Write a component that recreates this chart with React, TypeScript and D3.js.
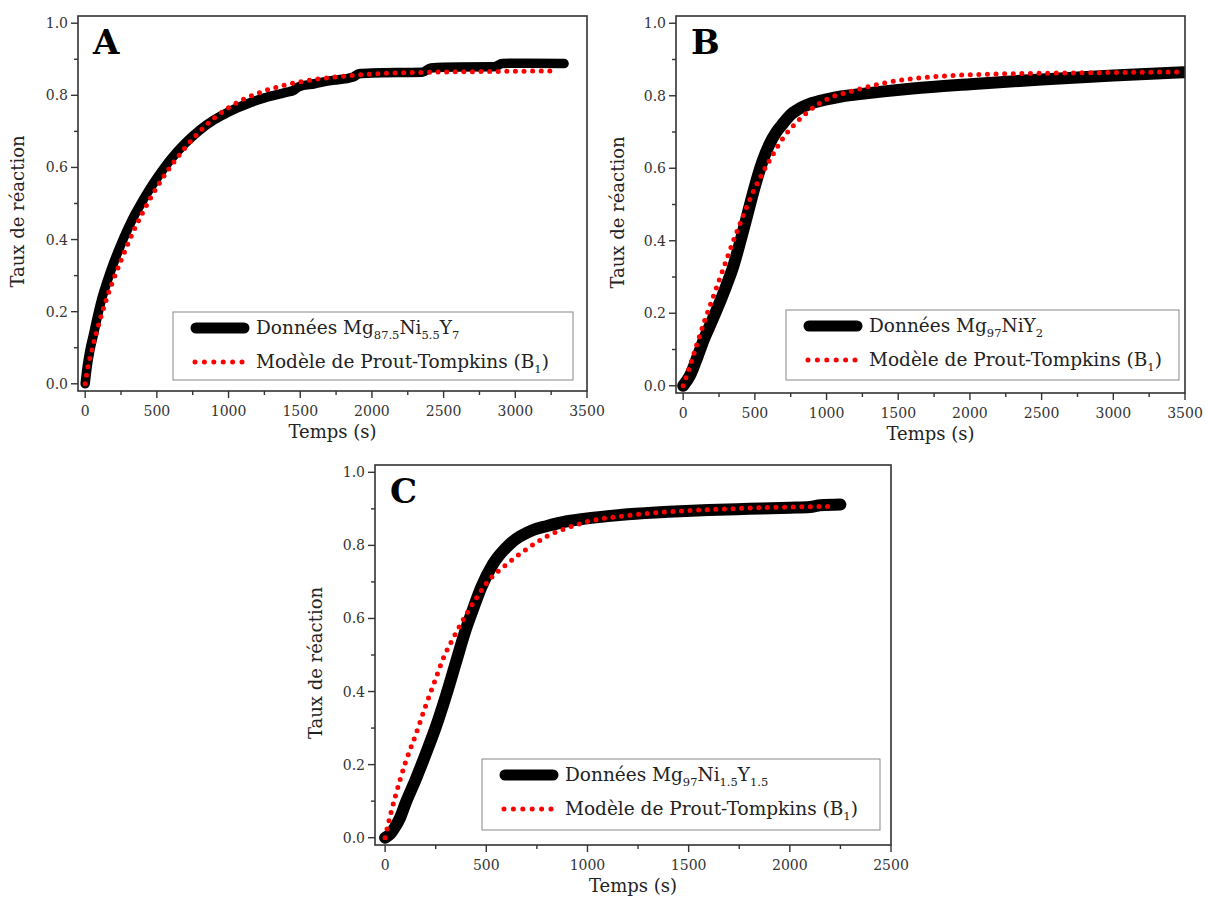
import React from 'react';
import * as d3 from 'd3';

const FONT = "'DejaVu Serif', serif";

// ---- data (time in s, reaction fraction) ----
const dataA: [number, number][] = [
  [0, 0], [15, 0.05], [33, 0.093], [60, 0.14], [85, 0.186], [113, 0.232], [150, 0.28], [200, 0.337],
  [250, 0.387], [300, 0.432], [350, 0.472], [400, 0.507], [450, 0.54], [500, 0.57], [600, 0.624],
  [700, 0.668], [800, 0.704], [900, 0.732], [1000, 0.754], [1128, 0.776], [1250, 0.793],
  [1400, 0.808], [1455, 0.814], [1490, 0.824], [1600, 0.832], [1700, 0.84], [1870, 0.851], [1910, 0.86],
  [2000, 0.862], [2350, 0.864], [2410, 0.876], [2500, 0.878], [2850, 0.879], [2910, 0.888],
  [3000, 0.889], [3340, 0.888],
];
const modelA: [number, number][] = [
  [0, 0], [19, 0.046], [47, 0.093], [77, 0.14], [110, 0.186], [146, 0.232], [200, 0.292], [250, 0.342],
  [300, 0.39], [350, 0.434], [400, 0.474], [500, 0.545], [600, 0.605], [700, 0.656], [800, 0.7],
  [900, 0.737], [1000, 0.766], [1200, 0.805], [1400, 0.829], [1600, 0.844], [1800, 0.853],
  [2000, 0.859], [2400, 0.864], [2800, 0.866], [3300, 0.868],
];
const dataB: [number, number][] = [
  [0, 0], [50, 0.03], [100, 0.08], [150, 0.133], [200, 0.178], [250, 0.225], [300, 0.275],
  [350, 0.33], [400, 0.4], [450, 0.475], [500, 0.55], [550, 0.615], [600, 0.665], [650, 0.7],
  [700, 0.725], [750, 0.748], [800, 0.762], [900, 0.78], [1000, 0.79], [1100, 0.798], [1200, 0.803],
  [1400, 0.812], [1600, 0.82], [2000, 0.832], [2500, 0.845], [3000, 0.856], [3500, 0.865],
];
const modelB: [number, number][] = [
  [0, 0], [50, 0.058], [100, 0.12], [150, 0.18], [200, 0.235], [250, 0.29], [300, 0.345],
  [350, 0.4], [400, 0.45], [450, 0.5], [500, 0.545], [600, 0.62], [700, 0.685], [800, 0.73],
  [900, 0.765], [1000, 0.79], [1200, 0.815], [1400, 0.835], [1600, 0.847], [1800, 0.854],
  [2000, 0.858], [2500, 0.862], [3000, 0.864], [3500, 0.866],
];
const dataC: [number, number][] = [
  [0, 0], [25, 0.01], [50, 0.03], [75, 0.056], [100, 0.093], [150, 0.158], [200, 0.228],
  [250, 0.302], [300, 0.387], [350, 0.48], [400, 0.572], [433, 0.623], [475, 0.685], [532, 0.748],
  [615, 0.803], [731, 0.842], [800, 0.853], [900, 0.866], [1000, 0.874], [1100, 0.88],
  [1200, 0.885], [1400, 0.892], [1600, 0.897], [1800, 0.9], [2000, 0.903], [2100, 0.905],
  [2150, 0.91], [2250, 0.912],
];
const modelC: [number, number][] = [
  [0, 0], [25, 0.06], [50, 0.112], [100, 0.205], [150, 0.28], [200, 0.36], [250, 0.435],
  [284, 0.486], [350, 0.56], [400, 0.61], [450, 0.655], [500, 0.696], [600, 0.748], [700, 0.79],
  [800, 0.825], [900, 0.848], [1000, 0.865], [1200, 0.882], [1400, 0.892], [1600, 0.898],
  [1800, 0.902], [2000, 0.905], [2220, 0.907],
];

const xTicksAB = [0, 500, 1000, 1500, 2000, 2500, 3000, 3500];
const xTicksC = [0, 500, 1000, 1500, 2000, 2500];
const yTicks = [0, 0.2, 0.4, 0.6, 0.8, 1.0];
const Y_DOMAIN: [number, number] = [-0.02, 1.02];

const X_TITLE = 'Temps (s)';
const Y_TITLE = 'Taux de réaction';
const MODEL_LABEL: [string, boolean][] = [['Modèle de Prout-Tompkins (B', false], ['1', true], [')', false]];
const labelA: [string, boolean][] = [['Données Mg', false], ['87.5', true], ['Ni', false], ['5.5', true], ['Y', false], ['7', true]];
const labelB: [string, boolean][] = [['Données Mg', false], ['97', true], ['NiY', false], ['2', true]];
const labelC: [string, boolean][] = [['Données Mg', false], ['97', true], ['Ni', false], ['1.5', true], ['Y', false], ['1.5', true]];

type Cfg = {
  letter: string; left: number; right: number; top: number; bottom: number;
  xDomain: [number, number]; xTicks: number[]; data: [number, number][]; model: [number, number][];
  dataWidth: number; legend: { x: number; y: number; w: number; h: number }; label: [string, boolean][];
  yTitleX: number; xTitleY: number;
};

const panels: Cfg[] = [
  { letter: 'A', left: 78, right: 587, top: 16, bottom: 391, xDomain: [-50, 3500], xTicks: xTicksAB,
    data: dataA, model: modelA, dataWidth: 9.5, legend: { x: 173, y: 312, w: 400, h: 68 }, label: labelA,
    yTitleX: 24, xTitleY: 438 },
  { letter: 'B', left: 676, right: 1185, top: 16, bottom: 393, xDomain: [-50, 3500], xTicks: xTicksAB,
    data: dataB, model: modelB, dataWidth: 12, legend: { x: 786, y: 310, w: 393, h: 70 }, label: labelB,
    yTitleX: 624, xTitleY: 440 },
  { letter: 'C', left: 375, right: 891, top: 465, bottom: 845, xDomain: [-50, 2500], xTicks: xTicksC,
    data: dataC, model: modelC, dataWidth: 12, legend: { x: 482, y: 759, w: 398, h: 71 }, label: labelC,
    yTitleX: 322, xTitleY: 892 },
];

const AXIS = '#333';

function RichText({ x, y, parts, size }: { x: number; y: number; parts: [string, boolean][]; size: number }) {
  let sub = false;
  const shift = 5;
  return (
    <text x={x} y={y} fontFamily={FONT} fontSize={size} fill="#222">
      {parts.map(([t, s], i) => {
        let dy = 0;
        if (s && !sub) dy = shift;
        if (!s && sub) dy = -shift;
        sub = s;
        return (
          <tspan key={i} dy={dy} fontSize={s ? size * 0.62 : size}>{t}</tspan>
        );
      })}
    </text>
  );
}

function Panel({ c }: { c: Cfg }) {
  const x = d3.scaleLinear().domain(c.xDomain).range([c.left, c.right]);
  const y = d3.scaleLinear().domain(Y_DOMAIN).range([c.bottom, c.top]);
  const line = d3.line<[number, number]>().x(d => x(d[0])).y(d => y(d[1])).curve(d3.curveMonotoneX);
  const minorX: number[] = [];
  for (let i = 0; i < c.xTicks.length - 1; i++) minorX.push((c.xTicks[i] + c.xTicks[i + 1]) / 2);
  const minorY: number[] = [];
  for (let i = 0; i < yTicks.length - 1; i++) minorY.push((yTicks[i] + yTicks[i + 1]) / 2);
  const lg = c.legend;
  const r1 = lg.y + 16;
  const r2 = lg.y + 50;
  const cx = (c.left + c.right) / 2;
  const cy = (c.top + c.bottom) / 2;
  return (
    <g>
      <defs>
        <clipPath id={'clip' + c.letter}>
          <rect x={c.left} y={c.top} width={c.right - c.left} height={c.bottom - c.top} />
        </clipPath>
      </defs>
      <g clipPath={`url(#clip${c.letter})`}>
        <path d={line(c.data) || ''} fill="none" stroke="#000" strokeWidth={c.dataWidth}
          strokeLinecap="round" strokeLinejoin="round" />
        <path d={line(c.model) || ''} fill="none" stroke="#ff0000" strokeWidth={5}
          strokeLinecap="round" strokeDasharray="0 8.6" />
      </g>
      <rect x={c.left} y={c.top} width={c.right - c.left} height={c.bottom - c.top}
        fill="none" stroke={AXIS} strokeWidth={1.6} />
      {c.xTicks.map(t => (
        <g key={'xt' + t}>
          <line x1={x(t)} x2={x(t)} y1={c.bottom} y2={c.bottom + 7} stroke={AXIS} strokeWidth={1.4} />
          <text x={x(t)} y={c.bottom + 25} textAnchor="middle" fontFamily={FONT} fontSize={14} fill="#333">{t}</text>
        </g>
      ))}
      {minorX.map(t => (
        <line key={'xm' + t} x1={x(t)} x2={x(t)} y1={c.bottom} y2={c.bottom + 4} stroke={AXIS} strokeWidth={1.4} />
      ))}
      {yTicks.map(t => (
        <g key={'yt' + t}>
          <line x1={c.left - 7} x2={c.left} y1={y(t)} y2={y(t)} stroke={AXIS} strokeWidth={1.4} />
          <text x={c.left - 10} y={y(t) + 5} textAnchor="end" fontFamily={FONT} fontSize={14} fill="#333">{t.toFixed(1)}</text>
        </g>
      ))}
      {minorY.map(t => (
        <line key={'ym' + t} x1={c.left - 4} x2={c.left} y1={y(t)} y2={y(t)} stroke={AXIS} strokeWidth={1.4} />
      ))}
      <text x={cx} y={c.xTitleY} textAnchor="middle" fontFamily={FONT} fontSize={18} fill="#222">{X_TITLE}</text>
      <text transform={`translate(${c.yTitleX},${cy + 8}) rotate(-90)`} textAnchor="middle" fontFamily={FONT}
        fontSize={18} fill="#222">{Y_TITLE}</text>
      <text x={c.left + 15} y={c.top + 38} fontFamily={FONT} fontWeight="bold" fontSize={34} fill="#000">{c.letter}</text>
      <rect x={lg.x} y={lg.y} width={lg.w} height={lg.h} fill="#fff" stroke="#888" strokeWidth={1} />
      <line x1={lg.x + 23} x2={lg.x + 71} y1={r1} y2={r1} stroke="#000" strokeWidth={11} strokeLinecap="round" />
      <line x1={lg.x + 22} x2={lg.x + 70} y1={r2} y2={r2} stroke="#ff0000" strokeWidth={5}
        strokeLinecap="round" strokeDasharray="0 9.4" />
      <RichText x={lg.x + 83} y={r1 + 6} parts={c.label} size={18.5} />
      <RichText x={lg.x + 83} y={r2 + 6} parts={MODEL_LABEL} size={18.5} />
    </g>
  );
}

export default function App() {
  return (
    <svg width={1206} height={897} style={{ position: 'absolute', left: 0, top: 0, background: '#fff' }}>
      <rect x={0} y={0} width={1206} height={897} fill="#fff" />
      {panels.map(p => <Panel key={p.letter} c={p} />)}
    </svg>
  );
}
